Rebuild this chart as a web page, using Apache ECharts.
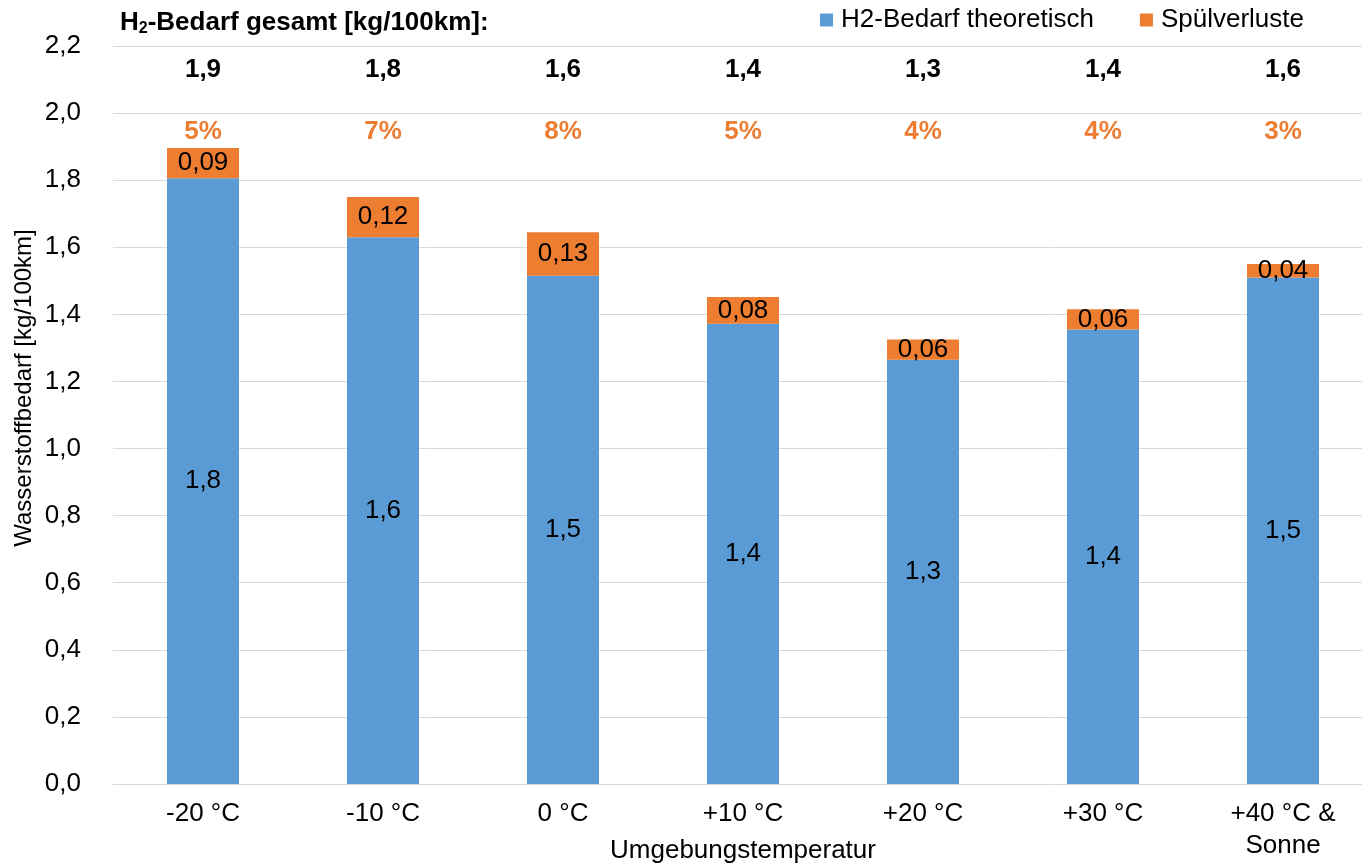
<!DOCTYPE html>
<html><head><meta charset="utf-8">
<script src="https://cdn.jsdelivr.net/npm/echarts@6/dist/echarts.min.js"></script>
<style>html,body{margin:0;padding:0;background:#fff}#c{width:1362px;height:865px}</style>
</head><body><div id="c"></div>
<script>
const categories = ['-20 °C', '-10 °C', '0 °C', '+10 °C', '+20 °C', '+30 °C', '+40 °C &\nSonne'];
const theoretisch = [1.806, 1.63, 1.515, 1.372, 1.265, 1.355, 1.51];
const spuelverluste = [0.09, 0.12, 0.13, 0.08, 0.06, 0.06, 0.04];
const totals = ['1,9', '1,8', '1,6', '1,4', '1,3', '1,4', '1,6'];
const percents = ['5%', '7%', '8%', '5%', '4%', '4%', '3%'];
const yTicks = [0, 0.2, 0.4, 0.6, 0.8, 1.0, 1.2, 1.4, 1.6, 1.8, 2.0, 2.2];

const FONT = '"Liberation Sans", Arial, sans-serif';
const FS = 26;
const fmt = (v, d) => v.toFixed(d).replace('.', ',');

const chart = echarts.init(document.getElementById('c'), null, {renderer: 'canvas'});
chart.setOption({
  animation: false,
  textStyle: {fontFamily: FONT},
  title: {
    text: '{a|H}{s|2}{a|-Bedarf gesamt [kg/100km]:}',
    left: 115, top: 4,
    textStyle: {
      rich: {
        a: {fontFamily: FONT, fontSize: FS, fontWeight: 'bold', color: '#000'},
        s: {fontFamily: FONT, fontSize: 16, fontWeight: 'bold', color: '#000', verticalAlign: 'bottom', padding: [12, 0, 0, 0]}
      }
    }
  },
  legend: {
    data: ['H2-Bedarf theoretisch', 'Spülverluste'],
    top: 2, left: 815,
    itemWidth: 13, itemHeight: 13, itemGap: 46,
    icon: 'rect',
    textStyle: {fontFamily: FONT, fontSize: FS, color: '#000', padding: [0, 0, 0, 3]}
  },
  grid: {left: 113, top: 46, width: 1260, height: 738, containLabel: false, outerBoundsMode: 'none'},
  xAxis: {
    type: 'category', data: categories,
    name: 'Umgebungstemperatur', nameLocation: 'middle', nameGap: 67, nameMoveOverlap: false,
    nameTextStyle: {fontFamily: FONT, fontSize: FS, color: '#000', verticalAlign: 'middle'},
    axisLine: {show: true, lineStyle: {color: '#D9D9D9', width: 1}},
    axisTick: {show: false},
    axisLabel: {fontFamily: FONT, fontSize: FS, color: '#000', margin: 14, lineHeight: 32}
  },
  yAxis: {
    type: 'value', min: 0, max: 2.2, interval: 0.2,
    name: 'Wasserstoffbedarf [kg/100km]', nameLocation: 'middle', nameGap: 89, nameRotate: 90, nameMoveOverlap: false,
    nameTextStyle: {fontFamily: FONT, fontSize: 24, color: '#000', verticalAlign: 'middle', padding: [0, 0, 0, 54]},
    axisLine: {show: false}, axisTick: {show: false},
    splitLine: {lineStyle: {color: '#D9D9D9', width: 1}},
    axisLabel: {fontFamily: FONT, fontSize: FS, color: '#000', margin: 32,
      formatter: v => fmt(v, 1)}
  },
  series: [
    {
      name: 'H2-Bedarf theoretisch', type: 'bar', stack: 's', barWidth: '40%',
      data: theoretisch,
      itemStyle: {color: '#5B9BD5'},
      label: {show: true, position: 'inside', fontFamily: FONT, fontSize: FS, color: '#000',
        formatter: p => fmt(p.value, 1)}
    },
    {
      name: 'Spülverluste', type: 'bar', stack: 's', barWidth: '40%',
      data: spuelverluste,
      itemStyle: {color: '#ED7D31'},
      label: {show: true, position: 'inside', fontFamily: FONT, fontSize: FS, color: '#000',
        formatter: p => fmt(p.value, 2)}
    },
    {
      name: 'totals', type: 'scatter', symbolSize: 0, silent: true,
      itemStyle: {opacity: 1},
      data: categories.map((c, i) => [i, 2.128]),
      label: {show: true, position: 'inside', fontFamily: FONT, fontSize: FS, fontWeight: 'bold', color: '#000',
        formatter: p => totals[p.dataIndex]}
    },
    {
      name: 'percents', type: 'scatter', symbolSize: 0, silent: true,
      itemStyle: {opacity: 1},
      data: categories.map((c, i) => [i, 1.944]),
      label: {show: true, position: 'inside', fontFamily: FONT, fontSize: FS, fontWeight: 'bold', color: '#ED7D31',
        formatter: p => percents[p.dataIndex]}
    }
  ]
});
</script></body></html>
